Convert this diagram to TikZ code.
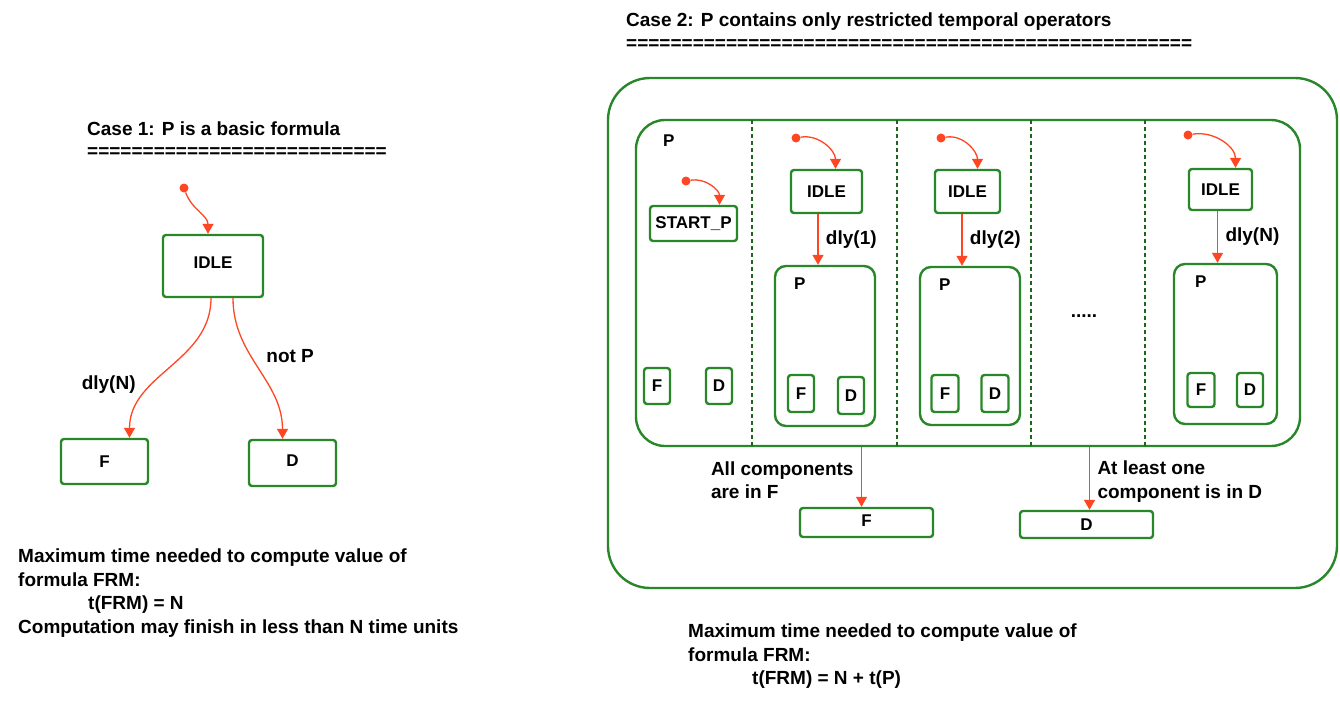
\documentclass[tikz,border=0pt]{standalone}
\usepackage{fontspec}
\setmainfont{Liberation Sans}
\usetikzlibrary{arrows.meta, positioning}
\definecolor{stgreen}{RGB}{40,135,40}
\definecolor{trred}{RGB}{255,70,35}

\begin{document}
\begin{tikzpicture}[x=1pt,y=-1pt,font=\fontsize{19}{23.5}\selectfont\bfseries]
            \tikzstyle{state}   = [draw=stgreen, line width=2.4pt, rounded corners=3pt, inner sep=0pt, font=\fontsize{17}{20}\selectfont\bfseries]
            \tikzstyle{sub}     = [state, rounded corners=11pt]
            \tikzstyle{initdot} = [circle, fill=trred, minimum size=9pt, inner sep=0pt]
            \tikzstyle{trans}   = [draw=trred, line width=1.3pt, -{Triangle[length=10pt,width=11pt]}]
            \tikzstyle{sep}     = [draw=stgreen!75!black, line width=2pt, dash pattern=on 4pt off 3pt]
            \tikzstyle{txt}     = [anchor=base west, inner sep=0pt]
            \tikzstyle{block}   = [align=left, anchor=north west, inner sep=0pt]
            \tikzstyle{every label}=[font=\fontsize{17}{20}\selectfont\bfseries, inner sep=0pt]

            \useasboundingbox (0,0) rectangle (1340,709);

            % Case 1 .........................
            \node[txt] (title1) at (87,135) {Case 1: P is a basic formula};
            \node[txt] (rule1) at (87,157) {===========================};

            \node[initdot] (i) at (184,188) {};
            \node[state, minimum width=100pt, minimum height=62pt] (idle) at (213,266) {\raisebox{7pt}{IDLE}};
            \node[state, minimum width=87pt, minimum height=45pt] (f) at (104.5,461.5) {F};
            \node[state, minimum width=87pt, minimum height=46pt] (d) at (292.5,463) {\raisebox{4pt}{D}};

            \draw[trans] (i) to[out=-70, in=90] ([xshift=-5pt]idle.north);
            \draw[trans] ([xshift=-2pt]idle.south) to[out=-90, in=90] node[pos=.64, left=14pt] {dly(N)} ([xshift=25pt]f.north);
            \draw[trans] ([xshift=20pt]idle.south) to[out=-90, in=90] node[pos=.4, right=12pt] {not P} ([xshift=-10pt]d.north);

            \node[block] (note1) at (18,549) {Maximum time needed to compute value of\\formula FRM:\\\hspace*{70pt}t(FRM) = N\\Computation may finish in less than N time units};

            % Case 2 .........................
            \node[txt] (title2) at (626,27) {Case 2: P contains only restricted temporal operators};
            \node[txt] (rule2) at (626,49) {===================================================};

            \draw[stgreen, line width=2.4pt, rounded corners=42pt] (608,78) rectangle (1337,588);
            \node[state, rounded corners=29pt, minimum width=664pt, minimum height=326pt,
                  label={[anchor=north west]north west:{\hspace*{28pt}\raisebox{-27pt}{P}}}] (pall) at (968,283) {};
            \foreach \x in {752,897,1031,1145}
                \draw[sep] (\x,120) -- (\x,446);

            % column 0
            \node[initdot] (i0) at (686,181) {};
            \node[state, minimum width=87pt, minimum height=35pt] (start) at (693.5,223.5) {START\_P};
            \node[state, minimum width=26pt, minimum height=36pt] (f0) at (657,386) {F};
            \node[state, minimum width=26pt, minimum height=36pt] (d0) at (719,386) {D};
            \draw[trans] (i0) to[out=10, in=90] ([xshift=26pt]start.north);

            % column 1
            \node[initdot] (i1) at (796,138) {};
            \node[state, minimum width=71pt, minimum height=43pt] (idle1) at (826.5,191.5) {IDLE};
            \node[sub, minimum width=100pt, minimum height=160pt,
                  label={[anchor=north west]north west:{\hspace*{20pt}\raisebox{-24pt}{P}}}] (p1) at (825,346) {};
            \node[state, minimum width=26pt, minimum height=37pt] (f1) at (801,393.5) {F};
            \node[state, minimum width=26pt, minimum height=37pt] (d1) at (851,395.5) {D};
            \draw[trans] (i1) to[out=10, in=90] ([xshift=9pt]idle1.north);
            \draw[trans] ([xshift=-7pt]p1.north |- idle1.south) -- node[right=4pt] {dly(1)} ([xshift=-7pt]p1.north);

            % column 2
            \node[initdot] (i2) at (941,138) {};
            \node[state, minimum width=65pt, minimum height=43pt] (idle2) at (967.5,191.5) {IDLE};
            \node[sub, minimum width=100pt, minimum height=158pt,
                  label={[anchor=north west]north west:{\hspace*{20pt}\raisebox{-24pt}{P}}}] (p2) at (970,346) {};
            \node[state, minimum width=27pt, minimum height=37pt] (f2) at (945,393.5) {F};
            \node[state, minimum width=27pt, minimum height=37pt] (d2) at (995,393.5) {D};
            \draw[trans] (i2) to[out=10, in=90] ([xshift=10pt]idle2.north);
            \draw[trans] ([xshift=-8pt]p2.north |- idle2.south) -- node[right=4pt] {dly(2)} ([xshift=-8pt]p2.north);

            \node (dots) at (1084,316) {.....};

            % column N
            \node[initdot] (iN) at (1188,135) {};
            \node[state, minimum width=63pt, minimum height=41pt] (idleN) at (1220.5,189.5) {IDLE};
            \node[sub, minimum width=103pt, minimum height=160pt,
                  label={[anchor=north west]north west:{\hspace*{22pt}\raisebox{-24pt}{P}}}] (pN) at (1225.5,344) {};
            \node[state, minimum width=27pt, minimum height=34pt] (fN) at (1201,390) {F};
            \node[state, minimum width=26pt, minimum height=34pt] (dN) at (1250,390) {D};
            \draw[trans] (iN) to[out=10, in=90] ([xshift=15pt]idleN.north);
            \draw[trans] ([xshift=-8pt]pN.north |- idleN.south) -- node[right=4pt] {dly(N)} ([xshift=-8pt]pN.north);

            % results
            \node[state, minimum width=133pt, minimum height=29pt] (fout) at (866.5,522.5) {\raisebox{4pt}{F}};
            \node[state, minimum width=133pt, minimum height=27pt] (dout) at (1086.5,524.5) {D};
            \draw[trans] ([xshift=-5pt]fout.north |- pall.south) -- node[pos=.55, left=4pt, align=left] {All components\\are in F} ([xshift=-5pt]fout.north);
            \draw[trans] ([xshift=3pt]dout.north |- pall.south) -- node[pos=.55, right=4pt, align=left] {At least one\\component is in D} ([xshift=3pt]dout.north);

            \node[block] (note2) at (688,624) {Maximum time needed to compute value of\\formula FRM:\\\hspace*{64pt}t(FRM) = N + t(P)};

\end{tikzpicture}
\end{document}
